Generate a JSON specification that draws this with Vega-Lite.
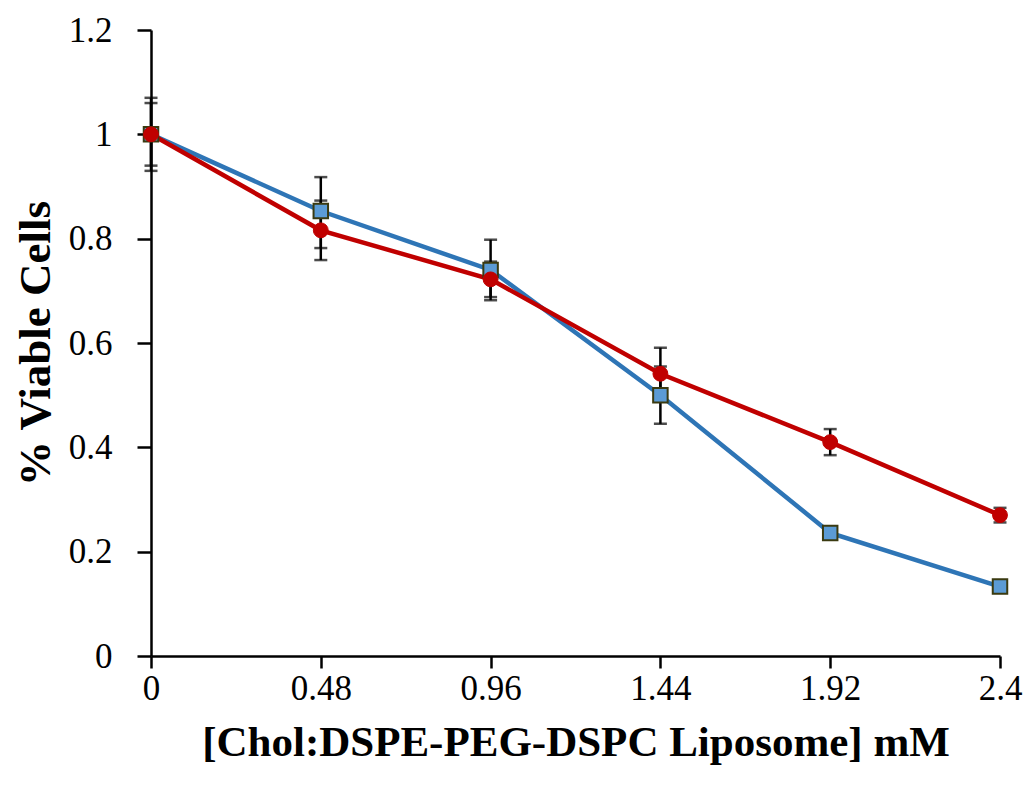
{
  "$schema": "https://vega.github.io/schema/vega-lite/v6.json",
  "width": 849,
  "height": 626,
  "autosize": {"type": "none"},
  "padding": {"left": 151, "top": 30, "right": 29, "bottom": 136},
  "background": "white",
  "config": {
    "view": {"stroke": null},
    "font": "Liberation Serif",
    "axis": {
      "grid": false,
      "domainColor": "black",
      "domainWidth": 2.5,
      "tickColor": "black",
      "tickWidth": 2.5,
      "labelFont": "Liberation Serif",
      "labelColor": "black",
      "titleFont": "Liberation Serif",
      "titleColor": "black",
      "titleFontWeight": "bold"
    }
  },
  "data": {
    "values": [
      {"series": "blue", "x": 0, "y": 1.0, "lo": 0.93, "hi": 1.07},
      {"series": "blue", "x": 0.48, "y": 0.853, "lo": 0.782, "hi": 0.918},
      {"series": "blue", "x": 0.96, "y": 0.74, "lo": 0.682, "hi": 0.798},
      {"series": "blue", "x": 1.44, "y": 0.50, "lo": 0.445, "hi": 0.555},
      {"series": "blue", "x": 1.92, "y": 0.236, "lo": 0.224, "hi": 0.248},
      {"series": "blue", "x": 2.4, "y": 0.133, "lo": 0.128, "hi": 0.138},
      {"series": "red", "x": 0, "y": 1.0, "lo": 0.94, "hi": 1.06},
      {"series": "red", "x": 0.48, "y": 0.816, "lo": 0.759, "hi": 0.873},
      {"series": "red", "x": 0.96, "y": 0.722, "lo": 0.688, "hi": 0.756},
      {"series": "red", "x": 1.44, "y": 0.541, "lo": 0.491, "hi": 0.591},
      {"series": "red", "x": 1.92, "y": 0.41, "lo": 0.385, "hi": 0.435},
      {"series": "red", "x": 2.4, "y": 0.27, "lo": 0.256, "hi": 0.284}
    ]
  },
  "encoding": {
    "x": {
      "field": "x",
      "type": "quantitative",
      "scale": {"domain": [0, 2.4], "nice": false, "zero": false},
      "axis": {
        "title": "[Chol:DSPE-PEG-DSPC Liposome] mM",
        "values": [0, 0.48, 0.96, 1.44, 1.92, 2.4],
        "labelExpr": "'' + datum.value",
        "tickSize": 12,
        "labelFontSize": 35,
        "labelPadding": 3,
        "titleFontSize": 43,
        "titlePadding": 15,
        "labelFlush": false
      }
    },
    "y": {
      "field": "y",
      "type": "quantitative",
      "scale": {"domain": [0, 1.2], "nice": false},
      "axis": {
        "title": "% Viable Cells",
        "values": [0, 0.2, 0.4, 0.6, 0.8, 1, 1.2],
        "labelExpr": "'' + datum.value",
        "tickSize": 14,
        "labelFontSize": 35,
        "labelPadding": 25,
        "titleFontSize": 45,
        "titlePadding": 10,
        "labelFlush": false
      }
    }
  },
  "layer": [
    {
      "mark": {"type": "rule", "color": "black", "strokeWidth": 2.5},
      "encoding": {"y": {"field": "lo", "type": "quantitative"}, "y2": {"field": "hi"}}
    },
    {
      "mark": {"type": "tick", "orient": "horizontal", "color": "black", "size": 13, "thickness": 2.5},
      "encoding": {"y": {"field": "lo", "type": "quantitative"}}
    },
    {
      "mark": {"type": "tick", "orient": "horizontal", "color": "black", "size": 13, "thickness": 2.5},
      "encoding": {"y": {"field": "hi", "type": "quantitative"}}
    },
    {
      "transform": [{"filter": "datum.series === 'blue'"}],
      "mark": {"type": "line", "color": "#2E75B6", "strokeWidth": 4.5},
      "encoding": {}
    },
    {
      "transform": [{"filter": "datum.series === 'red'"}],
      "mark": {"type": "line", "color": "#C00000", "strokeWidth": 4.5},
      "encoding": {}
    },
    {
      "transform": [{"filter": "datum.series === 'blue'"}],
      "mark": {"type": "point", "shape": "square", "filled": true, "fill": "#5B9BD5", "stroke": "#3A3A10", "strokeWidth": 2, "size": 210, "opacity": 1},
      "encoding": {}
    },
    {
      "transform": [{"filter": "datum.series === 'red'"}],
      "mark": {"type": "point", "shape": "circle", "filled": true, "fill": "#C00000", "stroke": "#C00000", "strokeWidth": 1, "size": 220, "opacity": 1},
      "encoding": {}
    }
  ]
}
